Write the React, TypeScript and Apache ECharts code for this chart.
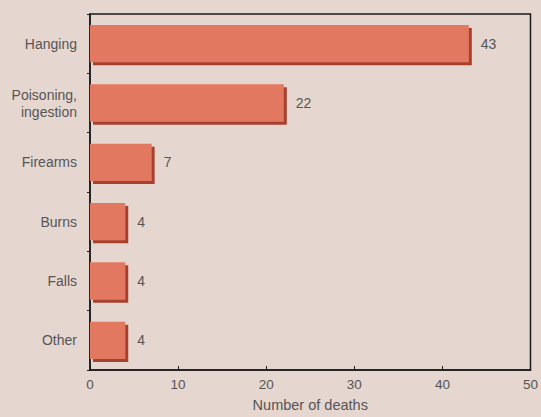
import React, { useEffect, useRef } from "react";
import * as echarts from "echarts";

const categories = ["Hanging", "Poisoning,\ningestion", "Firearms", "Burns", "Falls", "Other"];
const deaths = [43, 22, 7, 4, 4, 4];
const xTicks = [0, 10, 20, 30, 40, 50];

const FONT = "Liberation Sans, Arial, sans-serif";

export default function App() {
  const ref = useRef<HTMLDivElement>(null);
  useEffect(() => {
    const chart = echarts.init(ref.current!, null, { renderer: "svg" });
    chart.setOption({
      animation: false,
      backgroundColor: "#e6d6d0",
      grid: {
        left: 90,
        right: 8,
        top: 14,
        bottom: 45,
        show: true,
        borderColor: "#1a1a1a",
        borderWidth: 1.5,
        backgroundColor: "transparent",
      },
      xAxis: {
        type: "value",
        min: xTicks[0],
        max: xTicks[xTicks.length - 1],
        interval: 10,
        name: "Number of deaths",
        nameLocation: "middle",
        nameGap: 27,
        nameTextStyle: { color: "#555", fontSize: 14.5, fontFamily: FONT },
        axisLine: { show: true, lineStyle: { color: "#1a1a1a", width: 1.5 } },
        axisTick: { show: true, inside: true, length: 4, lineStyle: { color: "#1a1a1a" } },
        axisLabel: { color: "#555", fontSize: 13.5, margin: 7, fontFamily: FONT },
        splitLine: { show: false },
      },
      yAxis: {
        type: "category",
        data: categories,
        inverse: true,
        axisLine: { show: true, lineStyle: { color: "#1a1a1a", width: 1.5 } },
        axisTick: { show: true, length: 3, lineStyle: { color: "#1a1a1a" } },
        axisLabel: {
          color: "#555",
          fontSize: 14,
          margin: 13,
          lineHeight: 17,
          fontFamily: FONT,
        },
      },
      series: [
        {
          type: "bar",
          data: deaths,
          barWidth: "63%",
          itemStyle: {
            color: "#e2785f",
            shadowColor: "#a8402f",
            shadowOffsetX: 3,
            shadowOffsetY: 3,
            shadowBlur: 0,
          },
          label: {
            show: true,
            position: "right",
            distance: 12,
            color: "#555",
            fontSize: 14,
            fontFamily: FONT,
          },
        },
      ],
    });
    return () => chart.dispose();
  }, []);
  return <div ref={ref} style={{ position: "absolute", left: 0, top: 0, width: 541, height: 417 }} />;
}
